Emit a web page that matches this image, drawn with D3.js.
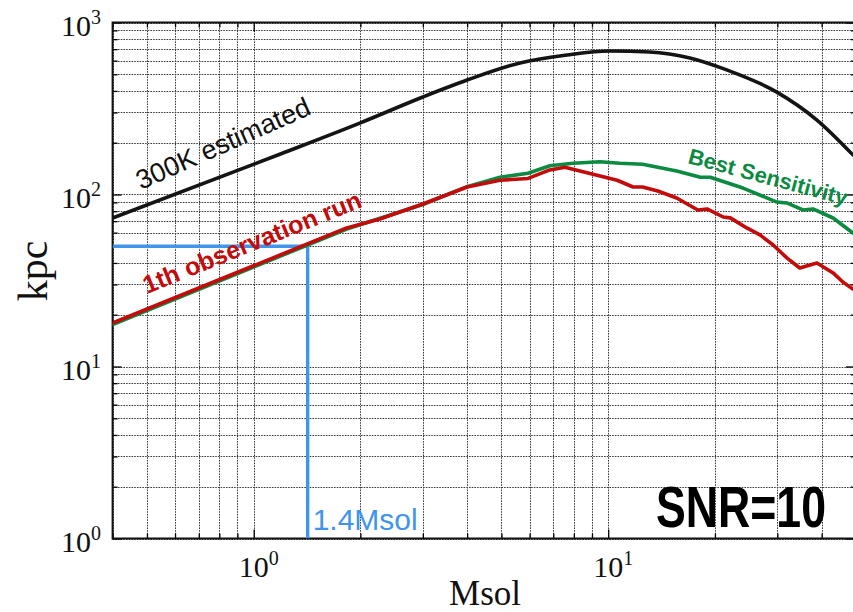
<!DOCTYPE html>
<html><head><meta charset="utf-8">
<script src="https://cdn.jsdelivr.net/npm/d3@7"></script>
<style>body{margin:0;background:#fff;} svg{display:block;}</style>
</head><body>
<svg id="c" width="853" height="612"></svg>
<script>
// ---------- data ----------
const massDomain = [0.4, 50];
const kpcDomain = [1, 1000];
const xMajorTicks = [1, 10];
const xTickExponents = ["0", "1"];
const yMajorTicks = [1, 10, 100, 1000];
const yTickExponents = ["0", "1", "2", "3"];

const estMass = [0.4, 1.19, 2.0, 3.0, 4.0, 5.64, 7.65, 10.1, 13.1, 17.0, 21.6, 29.9, 38.8, 49];
const estKpc  = [73, 172, 261, 369, 463, 582, 647, 683, 674, 622, 530, 394, 271, 170];

const runMass = [0.4, 1.83, 2.27, 3.0, 4.0, 4.95, 5.94, 6.85, 7.55, 9.06, 10.6, 11.75, 12.5, 13.8, 15.6, 17.9, 19.0, 21.1, 22.1, 24.6, 26.8, 29.2, 31.9, 34.7, 38.8, 43.1, 45.9, 49];
const runKpc  = [17.9, 63.9, 72.1, 88.0, 110.6, 121, 124, 139, 144, 131, 121, 110.6, 110.6, 104.8, 95.4, 81.3, 82.4, 74.0, 73.1, 63.9, 58.2, 50.9, 42.8, 37.4, 40.0, 35.0, 31.0, 28.2];

const bestMass = [0.4, 1.83, 3.0, 4.0, 4.95, 5.94, 6.85, 7.96, 9.48, 10.8, 12.5, 15.6, 18.2, 19.4, 24.0, 29.9, 31.9, 35.4, 37.8, 43.1, 49];
const bestKpc  = [17.5, 63.0, 87.5, 111, 126, 133, 147, 152, 155, 152, 150, 137, 126, 126, 109, 90.4, 89.3, 81.3, 82.4, 73.0, 59.7];

const markerMass = 1.42;
const markerKpc = 50;

const labels = {
  est: "300K estimated",
  run: "1th observation run",
  best: "Best Sensitivity",
  marker: "1.4Msol",
  snr: "SNR=10",
  xTitle: "Msol",
  yTitle: "kpc"
};

// ---------- chart ----------
const svg = d3.select("#c");
const x = d3.scaleLog().domain(massDomain).range([112.6, 856]);
const y = d3.scaleLog().domain(kpcDomain).range([538.5, 22.5]);

function minorValues(domain) {
  const out = [];
  for (let e = -2; e <= 4; e++) {
    for (let k = 1; k <= 9; k++) {
      const v = k * Math.pow(10, e);
      if (v >= domain[0] * 0.999 && v <= domain[1] * 1.001) out.push(+v.toPrecision(3));
    }
  }
  return out;
}
const xAll = minorValues(massDomain);
const yAll = minorValues(kpcDomain);
const xMinor = xAll.filter(v => !xMajorTicks.includes(v));
const yMinor = yAll.filter(v => !yMajorTicks.includes(v));

const [x0, x1] = x.range();
const [yb, yt] = y.range();

svg.append("defs").append("clipPath").attr("id", "clip")
  .append("rect").attr("x", x0).attr("y", yt).attr("width", x1 - x0).attr("height", yb - yt);

// grid
const grid = svg.append("g").attr("stroke", "#3a3a3a").attr("stroke-width", 1)
  .attr("stroke-dasharray", "1.6,1.1").attr("fill", "none");
grid.selectAll("line.v").data(xAll).join("line").attr("class", "v")
  .attr("x1", d => Math.round(x(d)) + 0.5).attr("x2", d => Math.round(x(d)) + 0.5)
  .attr("y1", yt).attr("y2", yb);
grid.selectAll("line.h").data(yAll).join("line").attr("class", "h")
  .attr("y1", d => Math.round(y(d)) + 0.5).attr("y2", d => Math.round(y(d)) + 0.5)
  .attr("x1", x0).attr("x2", x1);

// axes with inward ticks
function addAxis(gen, tr, vals, size) {
  const g = svg.append("g").attr("transform", tr)
    .call(gen.tickValues(vals).tickSize(size).tickSizeOuter(0).tickFormat(""));
  g.select(".domain").remove();
  g.selectAll("line").attr("stroke", "#000").attr("stroke-width", 1.3);
  return g;
}
addAxis(d3.axisBottom(x), `translate(0,${yb})`, xMinor, -5);
addAxis(d3.axisBottom(x), `translate(0,${yb})`, xMajorTicks, -9);
addAxis(d3.axisTop(x), `translate(0,${yt})`, xMinor, -5);
addAxis(d3.axisTop(x), `translate(0,${yt})`, xMajorTicks, -9);
addAxis(d3.axisLeft(y), `translate(${x0},0)`, yMinor, -5);
addAxis(d3.axisLeft(y), `translate(${x0},0)`, yMajorTicks, -9);
addAxis(d3.axisRight(y), `translate(${x1},0)`, yMinor, -5);
addAxis(d3.axisRight(y), `translate(${x1},0)`, yMajorTicks, -10);

// frame
svg.append("rect").attr("x", x0).attr("y", yt).attr("width", x1 - x0).attr("height", yb - yt)
  .attr("fill", "none").attr("stroke", "#111").attr("stroke-width", 2);

const plot = svg.append("g").attr("clip-path", "url(#clip)");

// blue marker lines
plot.append("path")
  .attr("d", d3.line()([[x(massDomain[0]), y(markerKpc)], [x(markerMass), y(markerKpc)], [x(markerMass), y(kpcDomain[0])]]))
  .attr("fill", "none").attr("stroke", "#3f95ec").attr("stroke-width", 3.4);

function curve(mass, kpc, color, interp) {
  const pts = mass.map((m, i) => [x(m), y(kpc[i])]);
  plot.append("path").attr("d", d3.line().curve(interp)(pts))
    .attr("fill", "none").attr("stroke", color).attr("stroke-width", 3.6)
    .attr("stroke-linejoin", "round").attr("stroke-linecap", "round");
}
curve(bestMass, bestKpc, "#0b8a42", d3.curveLinear);
curve(runMass, runKpc, "#c40b0b", d3.curveLinear);
curve(estMass, estKpc, "#141414", d3.curveMonotoneX);

// curve labels
const sans = "'Liberation Sans', Arial, Helvetica, sans-serif";
svg.append("text").attr("transform", "translate(141,190) rotate(-24)")
  .attr("font-family", sans).attr("font-size", 27).attr("fill", "#111").text(labels.est);
svg.append("text").attr("transform", "translate(147,294) rotate(-22)")
  .attr("font-family", sans).attr("font-weight", "bold").attr("font-size", 25).attr("fill", "#c40b0b").text(labels.run);
svg.append("text").attr("transform", "translate(687,163) rotate(15)")
  .attr("font-family", sans).attr("font-weight", "bold").attr("font-size", 22).attr("fill", "#0b8a42").text(labels.best);
svg.append("text").attr("x", x(markerMass) + 5).attr("y", 530)
  .attr("font-family", sans).attr("font-size", 30).attr("fill", "#3f95ec").text(labels.marker);

const snr = svg.append("text").attr("x", 0).attr("y", 0)
  .attr("font-family", sans).attr("font-weight", "bold")
  .attr("font-size", 57).attr("fill", "#000").text(labels.snr);
const snrLen = snr.node().getComputedTextLength();
snr.attr("transform", `translate(656,527) scale(${170 / snrLen},1)`);

// tick labels
const serif = "'Liberation Serif', 'Times New Roman', Times, serif";
const yl = svg.append("g").attr("font-family", serif).attr("fill", "#111");
yMajorTicks.forEach((v, i) => {
  const t = yl.append("text").attr("x", 101).attr("y", y(v) + 13).attr("text-anchor", "end").attr("font-size", 30);
  t.append("tspan").text("10");
  t.append("tspan").attr("font-size", 20).attr("dy", -12).text(yTickExponents[i]);
});
xMajorTicks.forEach((v, i) => {
  const t = yl.append("text").attr("x", x(v) - 15).attr("y", 577).attr("font-size", 30);
  t.append("tspan").text("10");
  t.append("tspan").attr("font-size", 20).attr("dy", -12).text(xTickExponents[i]);
});

// axis titles
svg.append("text").attr("x", 485).attr("y", 605).attr("text-anchor", "middle")
  .attr("font-family", serif).attr("font-size", 35).attr("fill", "#111").text(labels.xTitle);
svg.append("text").attr("transform", "translate(47,271) rotate(-90)").attr("text-anchor", "middle")
  .attr("font-family", serif).attr("font-size", 42).attr("fill", "#111").text(labels.yTitle);
</script>
</body></html>
